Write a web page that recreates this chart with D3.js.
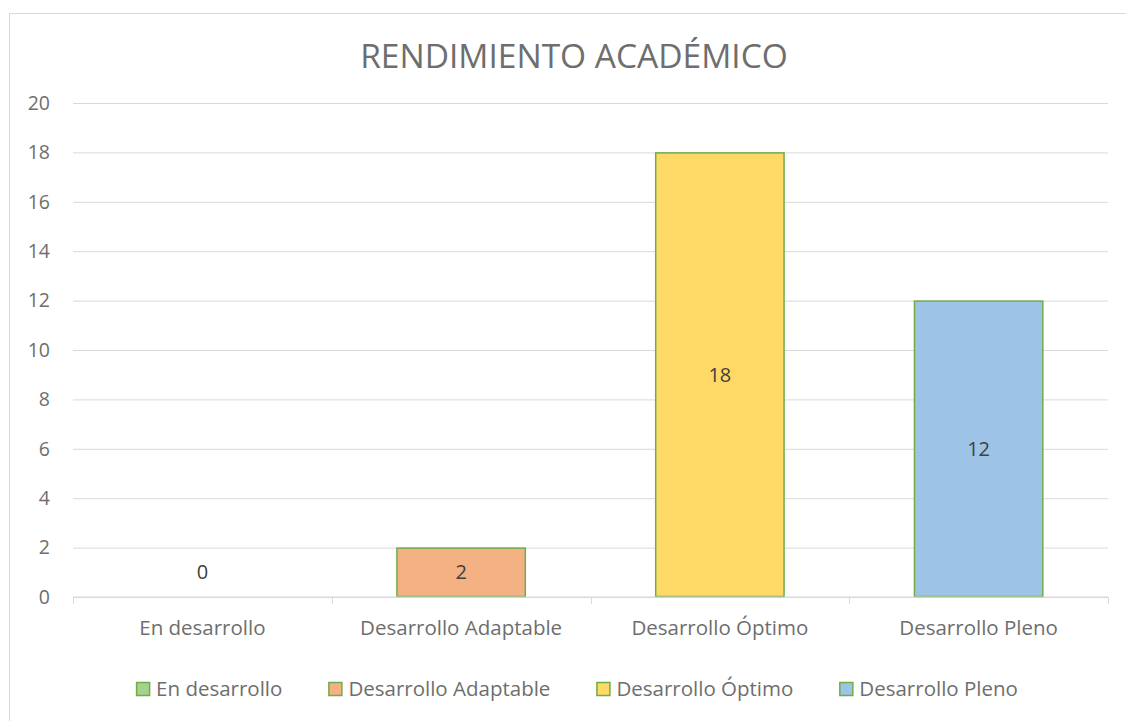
<!DOCTYPE html>
<html>
<head>
<meta charset="utf-8">
<script src="https://cdn.jsdelivr.net/npm/d3@7"></script>
<style>
  body { margin: 0; background: #fff; }
  text { font-family: "Open Sans", sans-serif; }
</style>
</head>
<body>
<svg id="chart" width="1126" height="721"></svg>
<script>
// chart data
const categories = ["En desarrollo", "Desarrollo Adaptable", "Desarrollo Óptimo", "Desarrollo Pleno"];
const values = [0, 2, 18, 12];
const fills = ["#a9d18e", "#f4b183", "#ffd966", "#9dc3e6"];
const yTicks = [0, 2, 4, 6, 8, 10, 12, 14, 16, 18, 20];
const title = "RENDIMIENTO ACADÉMICO";

const svg = d3.select("#chart");
const W = 1126, H = 721;
const m = { left: 73, right: 18, top: 103, bottom: 124 };
const textGrey = "#6e6e6e";

// outer chart frame
svg.append("rect")
  .attr("x", 9.5).attr("y", 13.5)
  .attr("width", W).attr("height", H)
  .attr("fill", "#fff").attr("stroke", "#d9d9d9");

svg.append("text")
  .attr("x", 574).attr("y", 68)
  .attr("text-anchor", "middle")
  .attr("font-size", 33.5).attr("fill", textGrey)
  .text(title);

const x = d3.scaleBand()
  .domain(categories)
  .range([m.left, W - m.right])
  .paddingInner(0.5).paddingOuter(0.25);

const y = d3.scaleLinear()
  .domain([0, 20])
  .range([H - m.bottom, m.top]);

// gridlines + y labels
const yAxis = svg.append("g")
  .attr("transform", `translate(${m.left},0)`)
  .call(d3.axisLeft(y).tickValues(yTicks).tickSize(-(W - m.right - m.left)).tickPadding(23));
yAxis.select(".domain").remove();
yAxis.selectAll(".tick line").attr("stroke", "#d9d9d9");
yAxis.selectAll(".tick text")
  .attr("fill", textGrey).attr("font-size", 19.5)
  .attr("text-anchor", "end").attr("x", -23);

// bars
svg.append("g").selectAll("rect")
  .data(values)
  .join("rect")
  .attr("x", (d, i) => x(categories[i]) + 0.5)
  .attr("y", d => y(d) + 0.5)
  .attr("width", x.bandwidth() - 1)
  .attr("height", d => Math.max(0, y(0) - y(d) - 1))
  .attr("fill", (d, i) => fills[i])
  .attr("stroke", "#70ad47")
  .attr("stroke-width", 1.5)
  .attr("display", d => d > 0 ? null : "none");

// x axis line with category ticks
const xg = svg.append("g").attr("transform", `translate(0,${y(0)})`);
xg.append("line")
  .attr("x1", m.left).attr("x2", W - m.right)
  .attr("stroke", "#d9d9d9");
const step = x.step();
d3.range(categories.length + 1).forEach(i => {
  const xx = Math.round(m.left + i * step) + 0.5;
  xg.append("line")
    .attr("x1", xx).attr("x2", xx).attr("y1", 0).attr("y2", 7)
    .attr("stroke", "#d9d9d9");
});
xg.selectAll("text.cat")
  .data(categories)
  .join("text")
  .attr("class", "cat")
  .attr("x", d => x(d) + x.bandwidth() / 2)
  .attr("y", 38)
  .attr("text-anchor", "middle")
  .attr("font-size", 20.5).attr("fill", textGrey)
  .text(d => d);

// data labels
svg.append("g").selectAll("text")
  .data(values)
  .join("text")
  .attr("x", (d, i) => x(categories[i]) + x.bandwidth() / 2)
  .attr("y", d => Math.min(y(d / 2), y(0) - 25) + 7)
  .attr("text-anchor", "middle")
  .attr("font-size", 20).attr("fill", "#404040")
  .text(d => d);

// legend, laid out from measured text widths and centred
const lg = svg.append("g").attr("transform", "translate(0,689)");
const items = lg.selectAll("g")
  .data(categories)
  .join("g");
items.append("rect")
  .attr("x", 0.5).attr("y", -6.5)
  .attr("width", 13).attr("height", 13)
  .attr("fill", (d, i) => fills[i])
  .attr("stroke", "#70ad47").attr("stroke-width", 1.5);
items.append("text")
  .attr("x", 20).attr("y", 7)
  .attr("font-size", 20.5).attr("fill", textGrey)
  .text(d => d);
const widths = [];
items.each(function () { widths.push(20 + this.querySelector("text").getComputedTextLength()); });
const gap = 46;
const total = d3.sum(widths) + gap * (widths.length - 1);
let cx = 577 - total / 2;
items.attr("transform", (d, i) => {
  const t = `translate(${cx},0)`;
  cx += widths[i] + gap;
  return t;
});
</script>
</body>
</html>
